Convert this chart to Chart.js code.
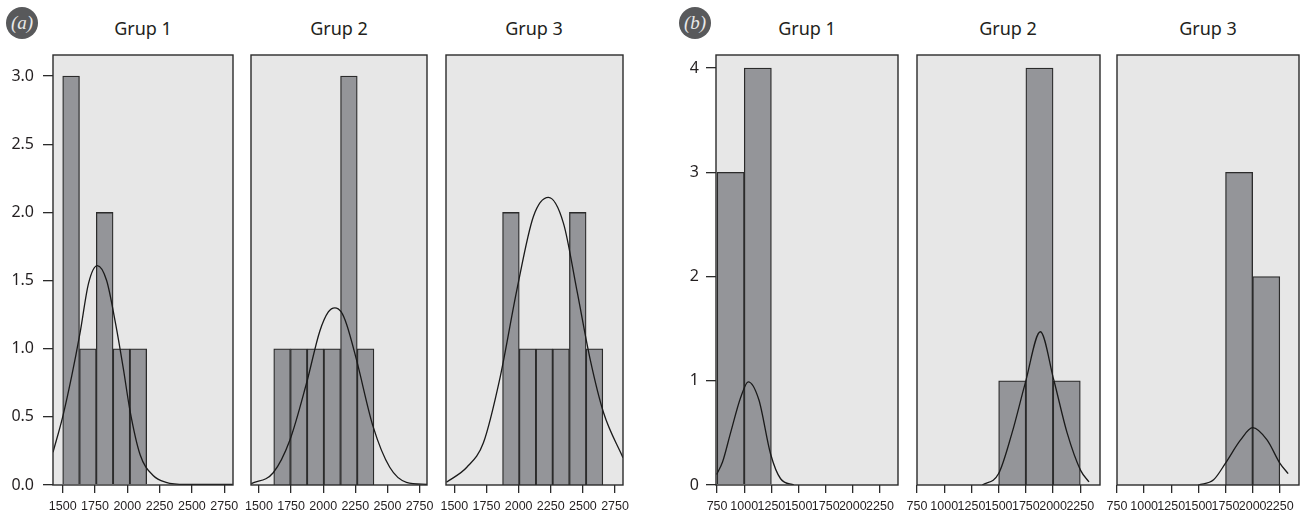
<!DOCTYPE html>
<html>
<head>
<meta charset="utf-8">
<script src="https://cdn.jsdelivr.net/npm/chart.js@4.4.1/dist/chart.umd.min.js"></script>
<style>
  body { margin: 0; background: #fff; width: 1308px; height: 516px; position: relative; overflow: hidden; font-family: 'Noto Sans', sans-serif; }
  canvas { position: absolute; top: 40px; }
  .title { position: absolute; top: 16px; width: 200px; text-align: center; font-size: 18px; line-height: 24px; color: #231f20; }
  .tag { position: absolute; top: 7px; width: 32px; height: 32px; border-radius: 50%; background: #58595b; color: #e8e8e8; font: italic 19px 'Liberation Serif', serif; text-align: center; line-height: 31px; }
</style>
</head>
<body>
<div class="tag" style="left:6px">(a)</div>
<div class="tag" style="left:679px">(b)</div>
<div class="title" style="left:43px">Grup 1</div>
<div class="title" style="left:239px">Grup 2</div>
<div class="title" style="left:434px">Grup 3</div>
<div class="title" style="left:707px">Grup 1</div>
<div class="title" style="left:908px">Grup 2</div>
<div class="title" style="left:1108px">Grup 3</div>

<canvas id="a1"></canvas>
<canvas id="a2"></canvas>
<canvas id="a3"></canvas>
<canvas id="b1"></canvas>
<canvas id="b2"></canvas>
<canvas id="b3"></canvas>

<script>
//------------------------------------------------------------------
// tick labels
const xTicksA = [1500, 1750, 2000, 2250, 2500, 2750];
const yTicksA = [0, 0.5, 1.0, 1.5, 2.0, 2.5, 3.0];
const xTicksB = [750, 1000, 1250, 1500, 1750, 2000, 2250];
const yTicksB = [0, 1, 2, 3, 4];

//------------------------------------------------------------------
// (a) histogram bins (bin centres) and counts
const binsA1 = [1565, 1695, 1825, 1955, 2085];
const countsA1 = [3, 1, 2, 1, 1];
const binsA2 = [1680, 1810, 1940, 2070, 2200, 2330];
const countsA2 = [1, 1, 1, 1, 3, 1];
const binsA3 = [1940, 2070, 2200, 2330, 2460, 2590];
const countsA3 = [2, 1, 1, 1, 2, 1];

// (a) normal curves
const curveA1X = [1425, 1500, 1570, 1635, 1700, 1768, 1840, 1910, 1970, 2020, 2100, 2200, 2300, 2450, 2815];
const curveA1Y = [0.24, 0.50, 0.80, 1.12, 1.48, 1.61, 1.50, 1.18, 0.85, 0.55, 0.22, 0.07, 0.02, 0.005, 0.005];
const curveA2X = [1440, 1611, 1741, 1871, 1974, 2040, 2091, 2140, 2182, 2259, 2388, 2518, 2648, 2808];
const curveA2Y = [0.01, 0.09, 0.33, 0.75, 1.13, 1.27, 1.30, 1.27, 1.18, 0.92, 0.43, 0.13, 0.02, 0.005];
const curveA3X = [1438, 1597, 1726, 1856, 1986, 2115, 2232, 2349, 2453, 2557, 2661, 2812];
const curveA3Y = [0.02, 0.13, 0.31, 0.79, 1.43, 1.97, 2.11, 1.92, 1.43, 0.92, 0.53, 0.20];

//------------------------------------------------------------------
// (b) histogram bins and counts
const binsB1 = [875, 1125];
const countsB1 = [3, 4];
const binsB2 = [1625, 1875, 2125];
const countsB2 = [1, 4, 1];
const binsB3 = [1875, 2125];
const countsB3 = [3, 2];

// (b) normal curves
const curveB1X = [745, 800, 874, 967, 1037, 1134, 1242, 1335, 1458];
const curveB1Y = [0.10, 0.22, 0.50, 0.84, 0.99, 0.82, 0.30, 0.06, 0.0];
const curveB2X = [1350, 1500, 1623, 1745, 1883, 2006, 2129, 2253, 2330];
const curveB2Y = [0.0, 0.11, 0.50, 0.98, 1.47, 1.01, 0.50, 0.14, 0.03];
const curveB3X = [1500, 1640, 1750, 1887, 2000, 2134, 2250, 2327];
const curveB3Y = [0.0, 0.05, 0.21, 0.43, 0.55, 0.43, 0.21, 0.11];

//------------------------------------------------------------------
const textColor = '#231f20';
const lineColor = '#2b2b2b';

// grey plot area + dark frame
const framePlugin = {
  id: 'frame',
  beforeDatasetsDraw(chart) {
    const { ctx, chartArea: a } = chart;
    ctx.save();
    ctx.fillStyle = '#e7e7e7';
    ctx.fillRect(a.left, a.top, a.width, a.height);
    ctx.restore();
  },
  afterDatasetsDraw(chart) {
    const { ctx, chartArea: a } = chart;
    ctx.save();
    ctx.strokeStyle = lineColor;
    ctx.lineWidth = 1.4;
    ctx.strokeRect(a.left, a.top, a.width, a.height);
    ctx.restore();
  }
};

function toPoints(xs, ys) {
  return xs.map((x, i) => ({ x: x, y: ys[i] }));
}

// one panel = one chart
function makePanel(id, p) {
  const canvas = document.getElementById(id);
  const margin = 24;
  const canvasLeft = p.yTicks ? p.left - p.axisWidth : p.left - margin;
  const width = p.right + margin - canvasLeft;
  canvas.width = width;
  canvas.height = 476;
  canvas.style.left = canvasLeft + 'px';

  new Chart(canvas.getContext('2d'), {
    type: 'bar',
    data: {
      datasets: [
        {
          type: 'line',
          data: toPoints(p.curveX, p.curveY),
          borderColor: '#1a1a1a',
          borderWidth: 1.3,
          pointRadius: 0,
          fill: false,
          cubicInterpolationMode: 'monotone',
          order: 0
        },
        {
          type: 'bar',
          data: toPoints(p.bins, p.counts),
          backgroundColor: '#949599',
          borderColor: lineColor,
          borderWidth: 1.3,
          borderSkipped: 'start',
          barPercentage: 1,
          categoryPercentage: 1,
          order: 1
        }
      ]
    },
    options: {
      responsive: false,
      animation: false,
      layout: { padding: { top: 15, bottom: 0, left: p.yTicks ? 0 : margin, right: margin } },
      plugins: { legend: { display: false }, tooltip: { enabled: false } },
      scales: {
        x: {
          type: 'linear',
          min: p.xMin,
          max: p.xMax,
          offset: false,
          border: { display: false },
          grid: { offset: false, drawOnChartArea: false, drawTicks: true, tickLength: 8, color: lineColor, lineWidth: 1.3 },
          ticks: {
            autoSkip: false, maxRotation: 0, minRotation: 0, padding: 6,
            color: textColor,
            font: { family: "'Liberation Sans Narrow', 'Liberation Sans', sans-serif", size: 12.5 },
            callback: (v) => String(v)
          },
          afterBuildTicks: (axis) => { axis.ticks = p.xTicks.map(v => ({ value: v })); },
          afterFit: (axis) => { axis.height = 31; axis.paddingLeft = 0; axis.paddingRight = 0; }
        },
        y: {
          display: !!p.yTicks,
          min: 0,
          max: p.yMax,
          border: { display: false },
          grid: { drawOnChartArea: false, drawTicks: true, tickLength: 10, color: lineColor, lineWidth: 1.3 },
          ticks: {
            padding: p.yPad,
            color: textColor,
            font: { family: "'Noto Sans', sans-serif", size: 16 },
            callback: (v) => p.yFormat(v)
          },
          afterBuildTicks: (axis) => { if (p.yTicks) axis.ticks = p.yTicks.map(v => ({ value: v })); },
          afterFit: (axis) => { if (p.yTicks) { axis.width = p.axisWidth; axis.paddingTop = 0; axis.paddingBottom = 0; } }
        }
      }
    },
    plugins: [framePlugin]
  });
}

//------------------------------------------------------------------
// panel (a)
const fmtA = (v) => v.toFixed(1);
makePanel('a1', { left: 53, right: 233, xMin: 1425, xMax: 2818, xTicks: xTicksA, yTicks: yTicksA, yMax: 3.155, axisWidth: 53, yPad: 9, yFormat: fmtA,
  bins: binsA1, counts: countsA1, curveX: curveA1X, curveY: curveA1Y });
makePanel('a2', { left: 251, right: 427, xMin: 1438, xMax: 2808, xTicks: xTicksA, yMax: 3.155, yFormat: fmtA,
  bins: binsA2, counts: countsA2, curveX: curveA2X, curveY: curveA2Y });
makePanel('a3', { left: 446, right: 623, xMin: 1435, xMax: 2812, xTicks: xTicksA, yMax: 3.155, yFormat: fmtA,
  bins: binsA3, counts: countsA3, curveX: curveA3X, curveY: curveA3Y });

// panel (b)
const fmtB = (v) => String(v);
makePanel('b1', { left: 716, right: 898, xMin: 740, xMax: 2416, xTicks: xTicksB, yTicks: yTicksB, yMax: 4.125, axisWidth: 56, yPad: 7, yFormat: fmtB,
  bins: binsB1, counts: countsB1, curveX: curveB1X, curveY: curveB1Y });
makePanel('b2', { left: 917, right: 1100, xMin: 750, xMax: 2431, xTicks: xTicksB, yMax: 4.125, yFormat: fmtB,
  bins: binsB2, counts: countsB2, curveX: curveB2X, curveY: curveB2Y });
makePanel('b3', { left: 1117, right: 1299, xMin: 750, xMax: 2427, xTicks: xTicksB, yMax: 4.125, yFormat: fmtB,
  bins: binsB3, counts: countsB3, curveX: curveB3X, curveY: curveB3Y });
</script>
</body>
</html>
